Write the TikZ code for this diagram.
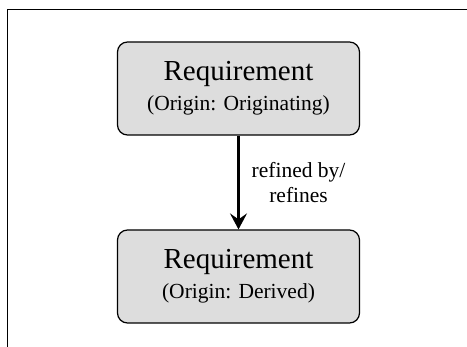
\documentclass[tikz,border=0pt]{standalone}
\usepackage{fontspec}
\setmainfont{Liberation Serif}
\usetikzlibrary{positioning,arrows.meta}
\definecolor{reqgray}{RGB}{221,221,221}
\tikzset{
	reqbox/.style={draw, line width=1.2pt, fill=reqgray, rounded corners=10pt,
		minimum width=242pt, minimum height=93pt, align=center, inner sep=0pt,
		font=\fontsize{21.5}{30}\selectfont},
	reqlink/.style={line width=2.4pt, -{Stealth[length=16pt,width=17pt,inset=6pt]}},
	linklabel/.style={align=center, inner sep=0pt, font=\fontsize{21.5}{25}\selectfont}
}
\newcommand{\reqtitle}[1]{{\fontsize{29}{30}\selectfont #1}}
\begin{document}
\begin{tikzpicture}[x=1pt,y=-1pt]
	\useasboundingbox (0,0) rectangle (467,347);
	% frame
	\draw[line width=1pt] (7,347) -- (7,10) -- (467,10);
	\node[reqbox] (orig) at (238.5,88.5) {\reqtitle{Requirement}\\(Origin: Originating)};
	\node[reqbox] (deriv) at (238.5,276.5) {\reqtitle{Requirement}\\(Origin: Derived)};
	\draw[reqlink] (orig) -- node[linklabel, right=12pt] (rel) {refined by/\\refines} (deriv);
\end{tikzpicture}
\end{document}
